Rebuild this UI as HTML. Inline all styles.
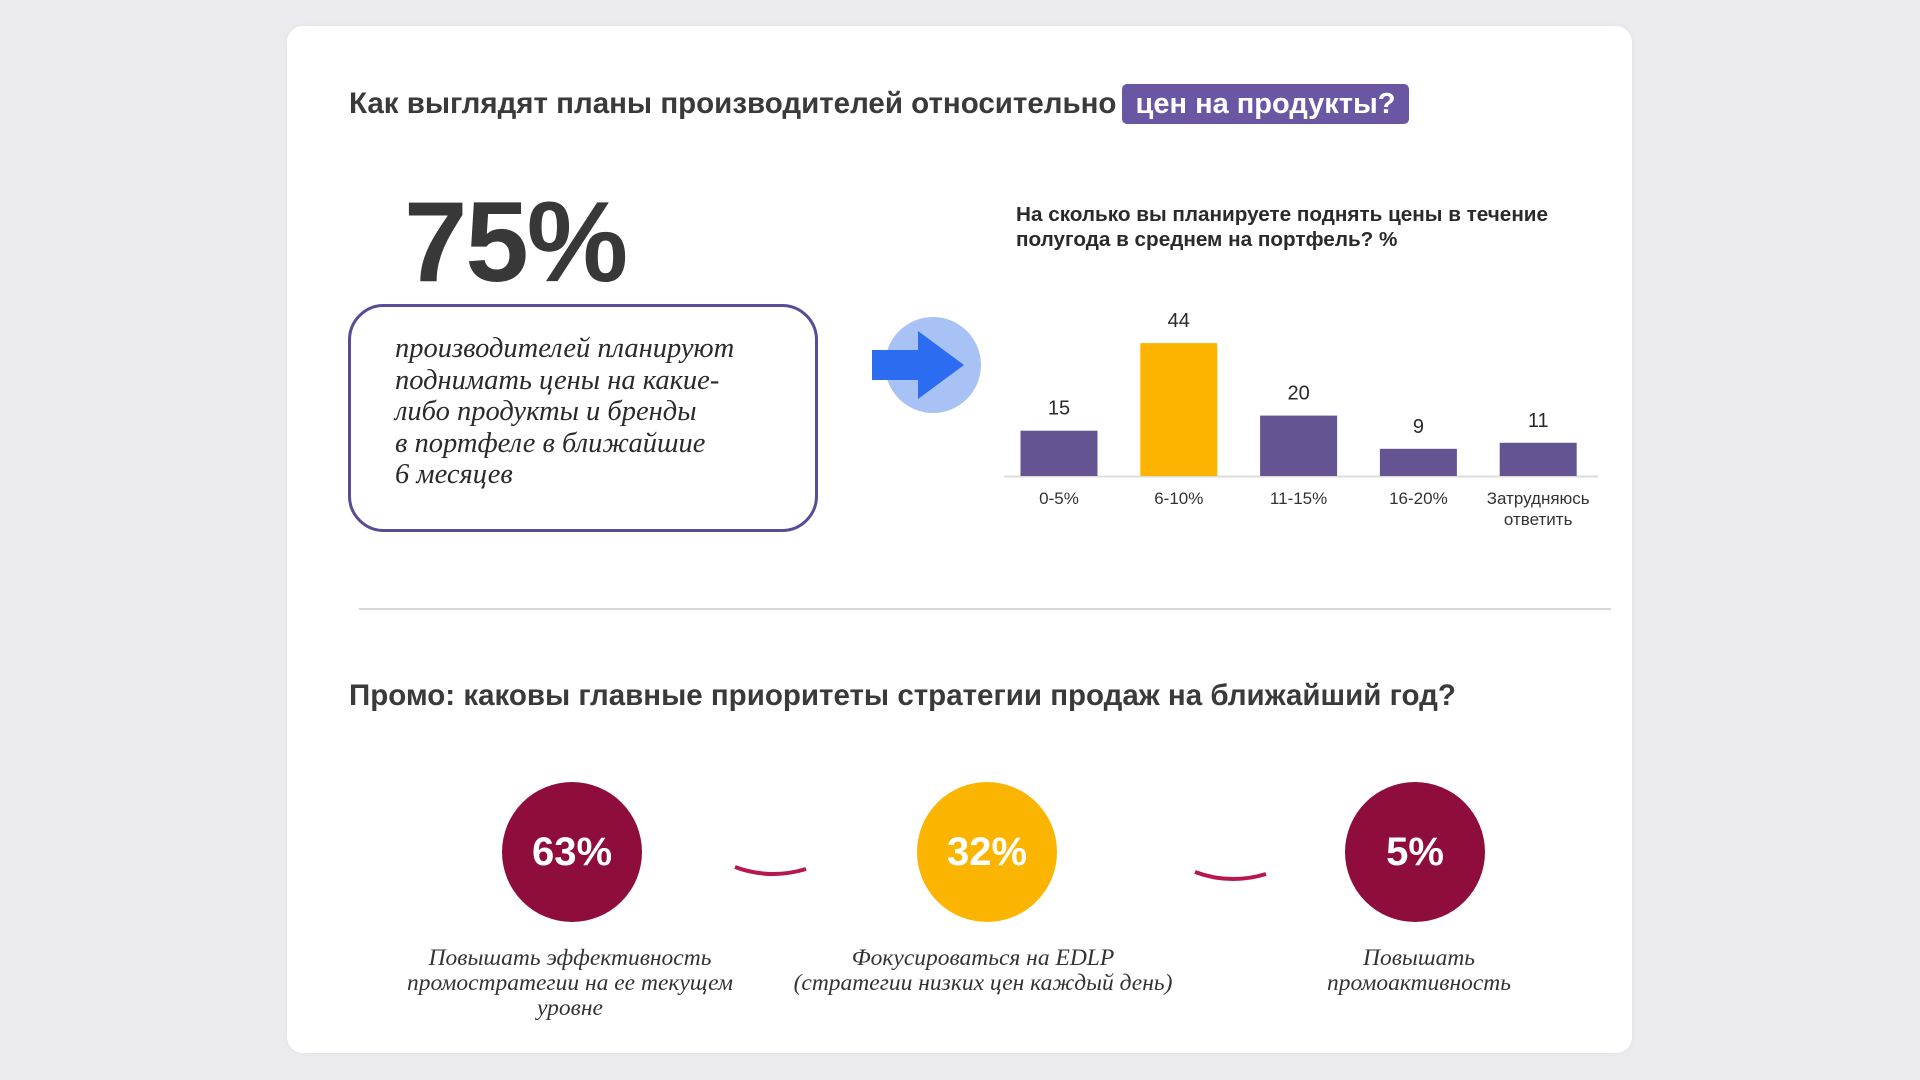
<!DOCTYPE html>
<html><head><meta charset="utf-8">
<style>
html,body{margin:0;padding:0;}
body{width:1920px;height:1080px;background:#ebebef;position:relative;overflow:hidden;font-family:"Liberation Sans",sans-serif;}
.card{position:absolute;left:287px;top:26px;width:1345px;height:1027px;background:#fff;border-radius:16px;box-shadow:0 0 6px rgba(0,0,0,0.04);}
.abs{position:absolute;}
.h1{font-weight:bold;font-size:29.5px;color:#3a3a3a;white-space:nowrap;}
.hl{position:absolute;left:1122px;top:84px;width:287px;height:40px;background:#6a57a4;border-radius:5px;color:#fff;font-weight:bold;font-size:29px;line-height:40px;text-align:center;}
.big{left:404px;top:186px;font-size:114px;font-weight:bold;color:#383838;line-height:1;letter-spacing:-2px;}
.box{left:348px;top:304px;width:464px;height:222px;border:3px solid #5a4a98;border-radius:36px;}
.serif{font-family:"Liberation Serif",serif;font-style:italic;color:#2a2a2a;}
.boxtxt{left:395px;top:333px;font-size:28.5px;line-height:31.5px;white-space:nowrap;}
.ctitle{left:1016px;top:202px;font-weight:bold;font-size:20.7px;line-height:25px;color:#2a2a2a;white-space:nowrap;}
.sep{left:359px;top:608px;width:1252px;height:2px;background:#d8d8d8;}
.circ{width:140px;height:140px;border-radius:50%;color:#fff;font-weight:bold;font-size:40px;text-align:center;line-height:140px;}
.cap{font-size:23.5px;line-height:25px;text-align:center;width:460px;color:#333;}
</style></head><body>
<div class="card"></div>
<div class="abs h1" style="left:349px;top:87px;">Как выглядят планы производителей относительно</div>
<div class="hl">цен на продукты?</div>
<div class="abs big">75%</div>
<div class="abs box"></div>
<div class="abs serif boxtxt">производителей планируют<br>поднимать цены на какие-<br>либо продукты и бренды<br>в портфеле в ближайшие<br>6 месяцев</div>
<svg class="abs" style="left:860px;top:310px" width="130" height="110">
<ellipse cx="73" cy="55" rx="48" ry="48" fill="#a8c2f5"/>
<polygon points="12,40 58,40 58,21 104,55 58,89 58,70 12,70" fill="#2b6cf0"/>
</svg>
<div class="abs ctitle">На сколько вы планируете поднять цены в течение<br>полугода в среднем на портфель? %</div>
<svg id="chart" class="abs" style="left:0;top:0" width="1920" height="1080"></svg>
<div class="abs sep"></div>
<div class="abs h1" style="left:349px;top:679px;">Промо: каковы главные приоритеты стратегии продаж на ближайший год?</div>
<div class="abs circ" style="left:502px;top:782px;background:#8e0d3d">63%</div>
<div class="abs circ" style="left:917px;top:782px;background:#fbb400">32%</div>
<div class="abs circ" style="left:1345px;top:782px;background:#8e0d3d">5%</div>
<svg class="abs" style="left:0;top:0" width="1920" height="1080">
<path d="M735 867 Q770 880 806 869" stroke="#b8174c" stroke-width="4" fill="none"/>
<path d="M1195 872 Q1230 885 1266 874" stroke="#b8174c" stroke-width="4" fill="none"/>
</svg>
<div class="abs serif cap" style="left:340px;top:946px">Повышать эффективность<br>промостратегии на ее текущем<br>уровне</div>
<div class="abs serif cap" style="left:753px;top:946px">Фокусироваться на EDLP<br>(стратегии низких цен каждый день)</div>
<div class="abs serif cap" style="left:1189px;top:946px">Повышать<br>промоактивность</div>
<script>
const categories = ["0-5%", "6-10%", "11-15%", "16-20%", "Затрудняюсь|ответить"];
const values = [15, 44, 20, 9, 11];
const highlight = [false, true, false, false, false];

const svg = document.getElementById('chart');
const NS = 'http://www.w3.org/2000/svg';
const baseY = 476, unit = 3.02, x0 = 1059, step = 119.8, bw = 77;
const xPos = i => x0 + i * step;
const yPos = v => baseY - v * unit;
const axis = document.createElementNS(NS, 'line');
axis.setAttribute('x1', 1004); axis.setAttribute('x2', 1598);
axis.setAttribute('y1', baseY + 0.5); axis.setAttribute('y2', baseY + 0.5);
axis.setAttribute('stroke', '#dcdcdc'); axis.setAttribute('stroke-width', 2);


svg.appendChild(axis);
values.forEach((v, i) => {
  const r = document.createElementNS(NS, 'rect');
  r.setAttribute('x', xPos(i) - bw / 2); r.setAttribute('y', yPos(v));
  r.setAttribute('width', bw); r.setAttribute('height', baseY - yPos(v));
  r.setAttribute('fill', highlight[i] ? '#fdb400' : '#645592');
  
  
  svg.appendChild(r);
  const t = document.createElementNS(NS, 'text');
  t.setAttribute('x', xPos(i)); t.setAttribute('y', yPos(v) - 16);
  t.setAttribute('text-anchor', 'middle'); t.setAttribute('font-size', '20');
  t.setAttribute('font-family', 'Liberation Sans, sans-serif'); t.setAttribute('fill', '#2a2a2a');
  t.textContent = v;
  
  
  svg.appendChild(t);
  categories[i].split('|').forEach((ln, k) => {
    const c = document.createElementNS(NS, 'text');
    c.setAttribute('x', xPos(i)); c.setAttribute('y', 504 + k * 21);
    c.setAttribute('text-anchor', 'middle'); c.setAttribute('font-size', '17');
    c.setAttribute('font-family', 'Liberation Sans, sans-serif'); c.setAttribute('fill', '#333');
    c.textContent = ln;
    
    
    svg.appendChild(c);
  });
});
</script>
</body></html>
